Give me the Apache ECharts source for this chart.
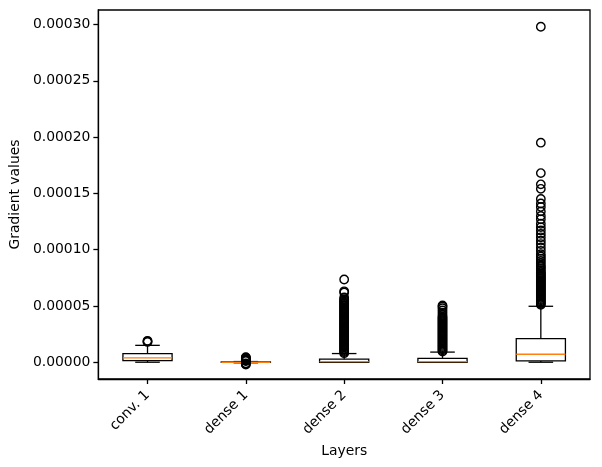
<!DOCTYPE html>
<html>
<head>
<meta charset="utf-8">
<script src="https://cdn.jsdelivr.net/npm/echarts@6/dist/echarts.min.js"></script>
<style>
html,body{margin:0;padding:0;background:#fff;}
#chart{width:602px;height:467px;}
</style>
</head>
<body>
<div id="chart"></div>
<script>
// values in units of 1e-5
const categories = ['conv. 1', 'dense 1', 'dense 2', 'dense 3', 'dense 4'];
const lowWhisker  = [0.0, -0.05, 0.0, 0.0, 0.0];
const q1          = [0.15, -0.02, 0.0, 0.0, 0.12];
const median      = [0.38, 0.0, 0.05, 0.05, 0.71];
const q3          = [0.77, 0.02, 0.27, 0.35, 2.1];
const highWhisker = [1.5, 0.06, 0.77, 0.9, 4.97];

const outConv1 = [1.8, 1.85, 1.9];
const outDense1 = [-0.2, -0.15, -0.1, 0.1, 0.15, 0.2, 0.25, 0.3, 0.35, 0.4, 0.45];
const outDense2 = [0.8, 0.9, 1.0, 1.1, 1.2, 1.3, 1.4, 1.5, 1.6, 1.7, 1.8, 1.9, 2.0, 2.1, 2.2, 2.3, 2.4, 2.5,
  2.6, 2.7, 2.8, 2.9, 3.0, 3.1, 3.2, 3.3, 3.4, 3.5, 3.6, 3.7, 3.8, 3.9, 4.0, 4.1, 4.2, 4.3, 4.4, 4.5,
  4.6, 4.7, 4.8, 4.9, 5.0, 5.1, 5.2, 5.3, 5.4, 5.5, 5.6, 5.75, 6.2, 6.3, 7.35];
const outDense3 = [0.95, 1.05, 1.15, 1.25, 1.35, 1.45, 1.55, 1.65, 1.75, 1.85, 1.95, 2.05, 2.15, 2.25, 2.35,
  2.45, 2.55, 2.65, 2.75, 2.85, 2.95, 3.05, 3.15, 3.25, 3.35, 3.45, 3.55, 3.65, 3.75, 3.85, 3.95, 4.05,
  4.2, 4.4, 4.6, 4.8, 4.95, 5.05];
const outDense4 = [29.8, 19.5, 16.8, 15.8, 15.4, 14.5, 14.1, 13.8, 13.4, 13.0, 12.7, 12.3, 12.0, 11.7, 11.4,
  11.1, 10.8, 10.5, 10.2, 9.9, 9.6, 9.4, 9.2, 9.0, 8.8, 8.6, 8.45, 8.3, 8.15, 8.0, 7.9, 7.8, 7.7, 7.6,
  7.5, 7.4, 7.3, 7.2, 7.1, 7.0, 6.9, 6.8, 6.7, 6.6, 6.5, 6.4, 6.3, 6.2, 6.1, 6.0, 5.9, 5.8, 5.7, 5.6,
  5.5, 5.4, 5.3, 5.2, 5.1];
const outliers = [outConv1, outDense1, outDense2, outDense3, outDense4];

const yTicks = [0, 5, 10, 15, 20, 25, 30];
const yTickLabels = ['0.00000', '0.00005', '0.00010', '0.00015', '0.00020', '0.00025', '0.00030'];

const boxData = categories.map((c, i) => [i, lowWhisker[i], q1[i], median[i], q3[i], highWhisker[i]]);
const flierData = [];
outliers.forEach((arr, i) => arr.forEach(v => flierData.push([i, v])));

const FONT = 'DejaVu Sans';
const LW = 1.3;

function renderBox(params, api) {
  const x = api.value(0);
  const pLow = api.coord([x, api.value(1)]);
  const pQ1 = api.coord([x, api.value(2)]);
  const pMed = api.coord([x, api.value(3)]);
  const pQ3 = api.coord([x, api.value(4)]);
  const pHigh = api.coord([x, api.value(5)]);
  const band = api.size([1, 0])[0];
  const bw = band * 0.5;
  const cw = bw / 2;
  const cx = pQ1[0];
  const black = {stroke: '#000', lineWidth: LW, fill: null};
  return {
    type: 'group',
    children: [
      {type: 'rect', shape: {x: cx - bw / 2, y: pQ3[1], width: bw, height: pQ1[1] - pQ3[1]}, style: {stroke: '#000', lineWidth: LW, fill: 'rgba(0,0,0,0)'}},
      {type: 'line', shape: {x1: cx, y1: pQ1[1], x2: cx, y2: pLow[1]}, style: black},
      {type: 'line', shape: {x1: cx, y1: pQ3[1], x2: cx, y2: pHigh[1]}, style: black},
      {type: 'line', shape: {x1: cx - cw / 2, y1: pLow[1], x2: cx + cw / 2, y2: pLow[1]}, style: black},
      {type: 'line', shape: {x1: cx - cw / 2, y1: pHigh[1], x2: cx + cw / 2, y2: pHigh[1]}, style: black},
      {type: 'line', shape: {x1: cx - bw / 2, y1: pMed[1], x2: cx + bw / 2, y2: pMed[1]}, style: {stroke: '#ff7f0e', lineWidth: LW}}
    ]
  };
}

const chart = echarts.init(document.getElementById('chart'), null, {renderer: 'canvas'});
chart.setOption({
  animation: false,
  backgroundColor: '#fff',
  grid: {left: 96, right: 12, top: 10, bottom: 88, show: true, borderColor: '#000', borderWidth: LW, backgroundColor: 'transparent'},
  xAxis: {
    type: 'category',
    data: categories,
    boundaryGap: true,
    name: 'Layers',
    nameLocation: 'middle',
    nameGap: 64,
    nameTextStyle: {fontFamily: FONT, fontSize: 13.9, color: '#000'},
    axisLine: {show: true, onZero: false, lineStyle: {color: '#000', width: LW}},
    axisTick: {show: true, alignWithLabel: true, inside: false, length: 5, lineStyle: {color: '#000', width: LW}},
    axisLabel: {rotate: 45, margin: 14, fontFamily: FONT, fontSize: 13.9, color: '#000', interval: 0},
    splitLine: {show: false}
  },
  yAxis: {
    type: 'value',
    min: -1.49,
    max: 31.29,
    name: 'Gradient values',
    nameLocation: 'middle',
    nameGap: 67,
    nameTextStyle: {fontFamily: FONT, fontSize: 13.9, color: '#000'},
    axisLine: {show: true, lineStyle: {color: '#000', width: LW}},
    axisTick: {show: true, inside: false, length: 5, customValues: yTicks, lineStyle: {color: '#000', width: LW}},
    axisLabel: {
      margin: 8, fontFamily: FONT, fontSize: 13.9, color: '#000',
      customValues: yTicks,
      formatter: function (v) { const i = yTicks.indexOf(Math.round(v)); return i >= 0 ? yTickLabels[i] : ''; }
    },
    splitLine: {show: false}
  },
  series: [
    {
      type: 'custom',
      renderItem: renderBox,
      data: boxData,
      encode: {x: 0, y: [1, 2, 3, 4, 5]},
      z: 2,
      clip: false
    },
    {
      type: 'scatter',
      data: flierData,
      symbol: 'circle',
      symbolSize: 8.4,
      itemStyle: {color: 'rgba(0,0,0,0)', borderColor: '#000', borderWidth: 1.4, opacity: 1},
      z: 3,
      silent: true
    }
  ]
});
</script>
</body>
</html>
